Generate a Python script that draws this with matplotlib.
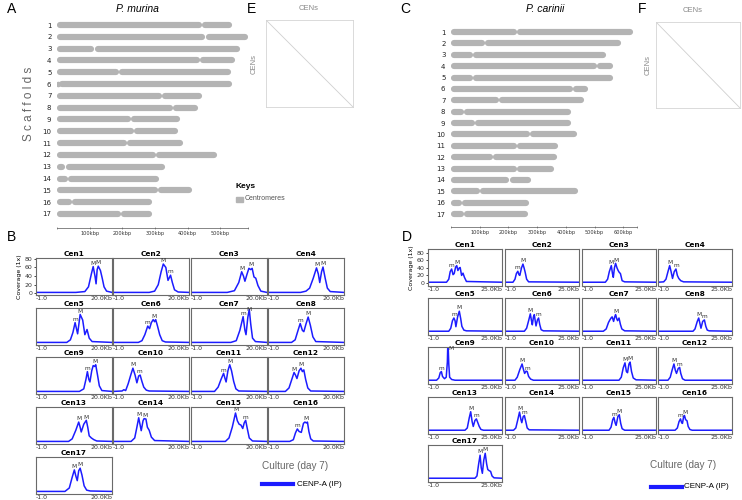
import numpy as np
import matplotlib
matplotlib.use('Agg')
import matplotlib.pyplot as plt
from matplotlib.lines import Line2D
from matplotlib.patches import Rectangle

# ---------------- data ----------------
scaffold_ids = list(range(1, 18))
murina_len = [537, 585, 562, 544, 532, 537, 444, 432, 378, 372, 385, 490, 331, 314, 414, 290, 290]
murina_cen = [444, 455, 115, 439, 191, 7, 321, 355, 227, 237, 214, 302, 26, 33, 309, 46, 197]
murina_axis_max = 585
murina_ticks = [100, 200, 300, 400, 500]

carinii_len = [635, 591, 540, 565, 565, 476, 463, 418, 418, 438, 374, 368, 360, 278, 444, 272, 267]
carinii_cen = [229, 119, 76, 510, 76, 426, 166, 44, 85, 275, 229, 146, 229, 204, 100, 38, 44]
carinii_axis_max = 648
carinii_ticks = [100, 200, 300, 400, 500, 600]

cen_names = ['Cen%d' % i for i in range(1, 18)]

# P. murina CENP-A coverage profiles: (kb, coverage)
mu_cen1 = [(-1,2),(10,2),(12.5,4),(13.5,15),(14.3,45),(14.8,62),(15.3,40),(15.6,22),(15.9,55),(16.2,63),(16.8,53),(17.3,35),(17.8,15),(18.5,5),(19.5,3),(20,2)]
mu_cen2 = [(-1,2),(9,2),(10.5,5),(11.5,20),(12.3,50),(12.9,68),(13.6,60),(14.2,30),(14.9,42),(15.4,25),(16,8),(17,3),(20,2)]
mu_cen3 = [(-1,2),(9,2),(11,6),(12.2,25),(13,50),(13.5,40),(13.9,28),(14.5,45),(15,58),(15.5,55),(15.9,58),(16.4,38),(16.9,35),(17.5,18),(18.3,5),(20,2)]
mu_cen4 = [(-1,2),(8,2),(9.5,5),(10.5,12),(11.5,35),(12.4,59),(12.9,45),(13.3,25),(13.8,50),(14.2,61),(14.8,35),(15.4,12),(16.2,4),(20,2)]
mu_cen5 = [(-1,2),(7.5,2),(8.5,8),(9.2,25),(9.8,48),(10.5,22),(11.2,67),(11.9,54),(12.5,20),(13.1,32),(13.7,12),(14.5,4),(20,2)]
mu_cen6 = [(-1,2),(6,2),(7,6),(7.8,20),(8.6,40),(9.1,34),(9.6,48),(10.1,55),(10.5,50),(10.8,55),(11.3,40),(11.9,20),(12.6,6),(13.5,3),(20,2)]
mu_cen7 = [(-1,2),(10,2),(11.5,6),(12.5,30),(13.4,62),(13.9,30),(14.2,20),(14.7,60),(15.1,79),(15.5,45),(16,12),(16.8,4),(20,2)]
mu_cen8 = [(-1,2),(5.5,2),(6.5,8),(7.3,30),(7.9,46),(8.5,30),(8.9,27),(9.5,45),(10.1,61),(10.7,42),(11.4,15),(12.2,4),(20,2)]
mu_cen9 = [(-1,2),(11,2),(12.2,8),(12.8,30),(13.2,48),(13.6,30),(13.9,24),(14.4,50),(14.8,62),(15.2,60),(15.5,64),(16,40),(16.5,15),(17.2,4),(20,2)]
mu_cen10 = [(-1,2),(1.5,3),(2,6),(2.5,4),(3.2,20),(3.9,40),(4.5,56),(5.1,40),(5.6,22),(6.1,38),(6.5,40),(7,25),(7.5,12),(8.2,5),(9,3),(20,2)]
mu_cen11 = [(-1,2),(5.5,2),(6.5,12),(7.3,30),(8,44),(8.4,32),(8.7,24),(9.2,50),(9.7,64),(10.2,50),(10.8,25),(11.4,8),(12.2,3),(20,2)]
mu_cen12 = [(-1,2),(3.8,2),(4.8,10),(5.5,28),(6.2,46),(6.6,40),(7,32),(7.6,50),(8.1,56),(8.5,48),(8.9,52),(9.4,30),(10,10),(10.8,3),(20,2)]
mu_cen13 = [(-1,2),(8,2),(9,8),(10,28),(10.8,47),(11.2,35),(11.5,24),(12.2,42),(12.9,51),(13.3,35),(13.7,15),(14.3,10),(15,6),(15.8,3),(20,2)]
mu_cen14 = [(-1,2),(4,2),(5,10),(5.6,35),(6.1,57),(6.5,40),(6.8,27),(7.3,50),(7.6,55),(8.1,54),(8.5,35),(9,28),(9.6,12),(10.5,4),(20,2)]
mu_cen15 = [(-1,2),(8.5,2),(9.5,10),(10.4,35),(11.3,68),(11.8,50),(12.3,42),(12.8,40),(13.3,32),(13.7,45),(14.1,51),(14.6,30),(15.1,10),(16,3),(20,2)]
mu_cen16 = [(-1,2),(5,2),(6,6),(6.6,22),(7.1,31),(7.6,25),(8.2,23),(8.8,44),(9.2,47),(9.6,45),(9.9,47),(10.3,25),(10.8,8),(11.5,3),(20,2)]
mu_cen17 = [(-1,2),(7,2),(8.2,10),(9,35),(9.6,52),(10,38),(10.4,27),(10.8,50),(11.2,56),(11.7,40),(12.3,15),(13,5),(14,3),(20,2)]
murina_profiles = [mu_cen1, mu_cen2, mu_cen3, mu_cen4, mu_cen5, mu_cen6, mu_cen7, mu_cen8, mu_cen9,
                   mu_cen10, mu_cen11, mu_cen12, mu_cen13, mu_cen14, mu_cen15, mu_cen16, mu_cen17]
# peak labels: (label, kb, coverage)
murina_marks = [
    [('M',14.8,62),('M',16.2,63)], [('M',12.9,68),('m',14.9,42)], [('M',13.0,50),('M',15.6,58)],
    [('M',12.4,59),('M',14.2,61)], [('m',9.8,48),('M',11.2,67)], [('m',8.6,40),('M',10.4,55)],
    [('m',13.4,62),('M',15.1,79)], [('m',7.9,46),('M',10.1,61)], [('m',13.2,48),('M',15.2,64)],
    [('M',4.5,56),('m',6.4,40)], [('m',8.0,44),('M',9.7,64)], [('M',6.2,46),('M',8.1,56)],
    [('M',10.8,47),('M',12.9,51)], [('M',6.1,57),('M',7.8,55)], [('M',11.3,68),('m',14.1,51)],
    [('m',7.1,31),('M',9.6,47)], [('M',9.6,52),('M',11.2,56)]]

# P. carinii CENP-A coverage profiles: (kb, coverage)
ca_cen1 = [(-1,2),(5.5,2),(6.3,10),(6.8,30),(7.3,37),(7.8,22),(8.2,25),(8.7,42),(9.1,46),(9.5,33),(10,40),(10.3,41),(10.8,20),(11.3,26),(11.8,15),(12.5,4),(25,2)]
ca_cen2 = [(-1,2),(1.8,2),(2.5,10),(3,25),(3.5,31),(3.9,22),(4.2,20),(4.8,40),(5.3,50),(5.7,40),(6.1,28),(6.6,10),(7.3,3),(25,2)]
ca_cen3 = [(-1,2),(7.2,2),(8,10),(8.6,30),(9.3,46),(9.7,25),(10,15),(10.4,40),(10.8,52),(11.3,40),(11.7,33),(12.1,28),(12.5,25),(13.1,6),(14,3),(25,2)]
ca_cen4 = [(-1,2),(1,3),(1.8,10),(2.5,30),(3.1,46),(3.6,30),(4.1,12),(4.7,30),(5.3,37),(5.8,20),(6.3,12),(7,6),(8,3),(25,2)]
ca_cen5 = [(-1,2),(6.3,2),(7,10),(7.6,30),(8.1,37),(8.5,30),(8.8,14),(9.4,40),(10,55),(10.5,35),(10.9,15),(11.6,5),(12.5,3),(25,2)]
ca_cen6 = [(-1,2),(5.8,2),(6.6,10),(7.3,30),(7.9,48),(8.3,30),(8.6,19),(9,40),(9.3,46),(9.6,30),(9.9,16),(10.4,32),(10.8,37),(11.2,20),(11.7,6),(12.5,3),(25,2)]
ca_cen7 = [(-1,2),(6.5,2),(7.5,8),(8.3,25),(8.8,32),(9.3,38),(9.6,40),(10.1,28),(10.5,40),(10.8,46),(11.2,35),(11.5,30),(12,37),(12.5,20),(13,8),(14,3),(25,2)]
ca_cen8 = [(-1,2),(11.3,2),(12,8),(12.8,28),(13.3,37),(13.8,20),(14.1,10),(14.7,28),(15.3,32),(15.8,15),(16.3,5),(17,3),(25,2)]
ca_cen9 = [(-1,2),(2,2),(2.8,8),(3.3,22),(3.7,25),(4.1,12),(4.8,6),(5.4,10),(5.8,50),(6.0,110),(6.3,45),(6.6,10),(7.3,4),(8.5,2),(25,2)]
ca_cen10 = [(-1,2),(2.5,2),(3.3,10),(4.2,30),(5,45),(5.5,30),(5.9,20),(6.4,26),(6.8,25),(7.3,12),(8,5),(9,2),(25,2)]
ca_cen11 = [(-1,2),(12,2),(12.8,10),(13.5,35),(14.1,48),(14.6,25),(15,22),(15.5,45),(15.9,50),(16.4,25),(17,8),(18,3),(25,2)]
ca_cen12 = [(-1,2),(2.5,2),(3.3,10),(4,30),(4.6,45),(5.1,28),(5.5,20),(6.1,33),(6.6,36),(7,20),(7.6,6),(8.5,2),(25,2)]
ca_cen13 = [(-1,2),(12,2),(12.8,8),(13.5,35),(14,51),(14.5,25),(14.9,12),(15.5,28),(16,32),(16.5,22),(17,12),(17.6,4),(18.5,2),(25,2)]
ca_cen14 = [(-1,2),(2,2),(2.8,8),(3.5,30),(4.1,50),(4.6,30),(4.9,22),(5.4,38),(5.8,41),(6.3,25),(6.8,8),(7.5,3),(25,2)]
ca_cen15 = [(-1,2),(8.5,2),(9.2,10),(9.8,30),(10.2,36),(10.7,20),(11,15),(11.6,38),(12.1,43),(12.6,20),(13.1,6),(14,2),(25,2)]
ca_cen16 = [(-1,2),(5,2),(5.8,8),(6.4,25),(6.9,32),(7.3,22),(7.6,20),(8,38),(8.3,41),(8.7,30),(9.2,27),(9.6,12),(10.2,4),(11,2),(25,2)]
ca_cen17 = [(-1,2),(15.5,2),(16.2,8),(16.8,40),(17.3,63),(17.7,30),(18.1,15),(18.6,50),(19.1,68),(19.6,40),(20,25),(20.5,22),(21,20),(21.5,8),(22.2,3),(25,2)]
carinii_profiles = [ca_cen1, ca_cen2, ca_cen3, ca_cen4, ca_cen5, ca_cen6, ca_cen7, ca_cen8, ca_cen9,
                    ca_cen10, ca_cen11, ca_cen12, ca_cen13, ca_cen14, ca_cen15, ca_cen16, ca_cen17]
carinii_marks = [
    [('m',7.3,37),('M',9.1,46)], [('m',3.5,31),('M',5.3,50)], [('M',9.3,46),('M',10.8,52)],
    [('M',3.1,46),('m',5.3,37)], [('m',8.1,37),('M',10.0,55)], [('M',7.9,48),('m',10.8,37)],
    [('M',10.8,46)], [('M',13.3,37),('m',15.3,32)], [('m',3.7,25),('M',7.0,78)],
    [('M',5.0,45),('m',6.8,25)], [('M',14.1,48),('M',15.9,50)], [('M',4.6,45),('m',6.6,36)],
    [('M',14.0,51),('m',16.0,32)], [('M',4.1,50),('m',5.8,41)], [('m',10.2,36),('M',12.1,43)],
    [('m',6.9,32),('M',8.3,41)], [('M',17.3,63),('M',19.1,68)]]

# ---------------- figure ----------------
W, H = 742, 500
plt.rcParams['font.family'] = ['DejaVu Sans']
fig = plt.figure(figsize=(W / 100, H / 100), dpi=100)

BLUE = '#1c1cff'
GRAY = '#b4b4b4'
ARIAL = 'Liberation Sans'


def px_axes(x0, y0, x1, y1):
    return fig.add_axes([x0 / W, 1 - y1 / H, (x1 - x0) / W, (y1 - y0) / H])


def ftext(x, y, s, **kw):
    return fig.text(x / W, 1 - y / H, s, **kw)


def ideogram(x0, y0, x1, y1, lengths, cens, xmax, ticks, top_off, bot_off):
    ax = px_axes(x0, y0, x1, y1)
    n = len(lengths)
    ax.set_xlim(0, xmax)
    ax.set_ylim(n + bot_off, 1 - top_off)
    bar_px = 6.2
    r = bar_px / 2 * xmax / (x1 - x0)
    lw = bar_px * 0.72
    for row, L, c in zip(scaffold_ids, lengths, cens):
        for a, b in ((0, c), (c, L)):
            if b - a > 2 * r:
                ax.plot([a + r, b - r], [row, row], color=GRAY, lw=lw,
                        solid_capstyle='round')
            else:
                ax.plot([(a + b) / 2], [row], 'o', color=GRAY, ms=lw * 0.9, mew=0)
    for s in ('top', 'right', 'left'):
        ax.spines[s].set_visible(False)
    ax.spines['bottom'].set_color('#555555')
    ax.spines['bottom'].set_linewidth(0.5)
    ax.set_xticks([0] + ticks + [xmax])
    ax.set_xticklabels([''] + ['%dkbp' % t for t in ticks] + [''])
    ax.tick_params(axis='x', labelsize=3.6, length=2, width=0.4, pad=1.2,
                   color='#555555', labelcolor='#333333', direction='inout')
    ax.set_yticks(scaffold_ids)
    ax.set_yticklabels([str(i) for i in scaffold_ids])
    ax.tick_params(axis='y', labelsize=5, length=0, pad=4, labelcolor='#222222')
    ax.patch.set_alpha(0)
    return ax


def cen_box(x0, y0, x1, y1):
    ax = px_axes(x0, y0, x1, y1)
    ax.plot([0, 1], [1, 0], color='#cfcfcf', lw=0.6, transform=ax.transAxes)
    ax.set_xticks([])
    ax.set_yticks([])
    for s in ax.spines.values():
        s.set_color('#d4d4d4')
        s.set_linewidth(0.6)
    return ax


def coverage_grid(col_x, row_y, w, h, profiles, marks, xmax_kb, ylim, right_label):
    for i, (prof, mk) in enumerate(zip(profiles, marks)):
        r, c = divmod(i, 4)
        x0, y0 = col_x[c], row_y[r]
        ax = px_axes(x0, y0, x0 + w, y0 + h)
        kb = [p[0] for p in prof]
        cov = [p[1] for p in prof]
        ax.plot(kb, cov, color=BLUE, lw=1.1)
        ax.set_xlim(-1, xmax_kb)
        ax.set_ylim(*ylim)
        for lbl, mx, my in mk:
            ax.annotate(lbl, (mx, min(my, ylim[1] - 12)), xytext=(0, 0.6),
                        textcoords='offset points', ha='center', va='bottom',
                        fontsize=4.2, color='#333333')
        ax.set_xticks([])
        for s in ax.spines.values():
            s.set_color('#6a6a6a')
            s.set_linewidth(0.8)
        ax.set_title(cen_names[i], fontsize=5.3, fontweight='bold', pad=1.5)
        ax.text(0, -0.03, '-1.0', transform=ax.transAxes, ha='left', va='top',
                fontsize=4.5, color='#333333')
        ax.text(1, -0.03, right_label, transform=ax.transAxes, ha='right', va='top',
                fontsize=4.5, color='#333333')
        if i == 0:
            ax.set_yticks([0, 20, 40, 60, 80])
            ax.tick_params(axis='y', labelsize=4.5, length=1.5, width=0.5, pad=1,
                           labelcolor='#333333')
            ax.set_ylabel('Coverage (1x)', fontsize=4.5, labelpad=2)
        else:
            ax.set_yticks([])


# ---- Panel A ----
ftext(12, 9, 'A', fontsize=10, family=ARIAL, ha='center', va='center')
ftext(137, 9, 'P. murina', fontsize=7.5, family=ARIAL, style='italic', ha='center', va='center')
ideogram(57, 19, 248, 228, murina_len, murina_cen, murina_axis_max, murina_ticks, 0.51, 1.19)
ftext(29, 104, 'S c a f f o l d s', fontsize=8.5, family=ARIAL, color='#666666',
      rotation=90, ha='center', va='center')
ftext(236, 186, 'Keys', fontsize=6, family=ARIAL, fontweight='bold', ha='left', va='center')
fig.add_artist(Rectangle((236 / W, 1 - 201.5 / H), 7 / W, 5 / H, color=GRAY,
                         transform=fig.transFigure))
ftext(245, 199, 'Centromeres', fontsize=5, family=ARIAL, color='#555555', ha='left', va='center')

# ---- Panel E ----
ftext(252, 9, 'E', fontsize=10, family=ARIAL, ha='center', va='center')
cen_box(266, 20, 353, 107)
ftext(309, 8, 'CENs', fontsize=5.5, family=ARIAL, color='#888888', ha='center', va='center')
ftext(254, 64, 'CENs', fontsize=5.5, family=ARIAL, color='#888888', rotation=90,
      ha='center', va='center')

# ---- Panel C ----
ftext(405, 9, 'C', fontsize=10, family=ARIAL, ha='center', va='center')
ftext(545, 9, 'P. carinii', fontsize=7.5, family=ARIAL, style='italic', ha='center', va='center')
ideogram(451, 26, 637, 227, carinii_len, carinii_cen, carinii_axis_max, carinii_ticks, 0.53, 1.14)

# ---- Panel F ----
ftext(642, 9, 'F', fontsize=10, family=ARIAL, ha='center', va='center')
cen_box(656, 22, 740, 108)
ftext(693, 10, 'CENs', fontsize=5.5, family=ARIAL, color='#888888', ha='center', va='center')
ftext(648, 65, 'CENs', fontsize=5.5, family=ARIAL, color='#888888', rotation=90,
      ha='center', va='center')

# ---- Panel B ----
ftext(12, 237, 'B', fontsize=10, family=ARIAL, ha='center', va='center')
coverage_grid([36, 113, 191, 268], [258, 308, 357, 407, 457], 76, 37,
              murina_profiles, murina_marks, 20, (-4, 82), '20.0Kb')
ftext(262, 466, 'Culture (day 7)', fontsize=7.2, family=ARIAL, color='#666666',
      ha='left', va='center')
fig.add_artist(Line2D([262 / W, 293 / W], [1 - 484 / H] * 2, color=BLUE, lw=3,
                      transform=fig.transFigure))
ftext(297, 484, 'CENP-A (IP)', fontsize=5.8, family=ARIAL, ha='left', va='center')

# ---- Panel D ----
ftext(407, 237, 'D', fontsize=10, family=ARIAL, ha='center', va='center')
coverage_grid([428, 505, 582, 658], [249, 298, 347, 397, 445], 74, 37,
              carinii_profiles, carinii_marks, 25, (-8, 90), '25.0Kb')
ftext(650, 465, 'Culture (day 7)', fontsize=7.2, family=ARIAL, color='#666666',
      ha='left', va='center')
fig.add_artist(Line2D([651 / W, 682 / W], [1 - 487 / H] * 2, color=BLUE, lw=3,
                      transform=fig.transFigure))
ftext(684, 487, 'CENP-A (IP)', fontsize=5.8, family=ARIAL, ha='left', va='center')

fig.savefig('out.png', dpi=100)
